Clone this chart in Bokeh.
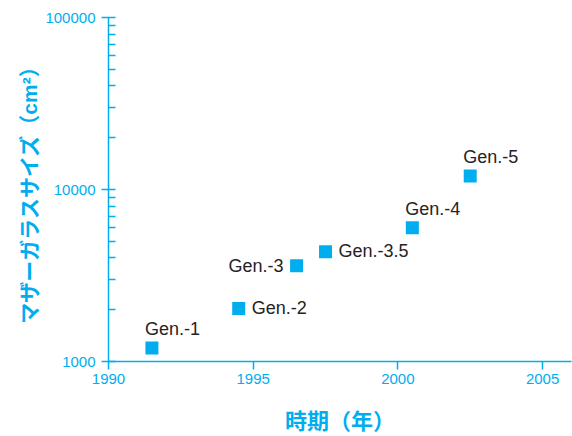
from bokeh.plotting import figure
from bokeh.models import Range1d, FixedTicker, ColumnDataSource, PrintfTickFormatter
from bokeh.core.properties import value
from bokeh.embed import file_html
from bokeh.resources import INLINE

# Mother-glass generations: introduction year and substrate area (cm^2)
generations = ["Gen.-1", "Gen.-2", "Gen.-3", "Gen.-3.5", "Gen.-4", "Gen.-5"]
years = [1991.5, 1994.5, 1996.5, 1997.5, 2000.5, 2002.5]
glass_area_cm2 = [1200, 2030, 3600, 4350, 6000, 12000]

x_ticks = [1990, 1995, 2000, 2005]
y_ticks = [1000, 10000, 100000]

x_title = "時期（年）"
y_title = "マザーガラスサイズ（cm²）"

# where each label sits relative to its marker
label_side = ["above", "right", "left", "right", "above", "above"]
side_offsets = {"above": (-7, -18.5), "right": (13, -0.5), "left": (-13, 0)}

CYAN = "#00AEEF"
TEXT = "#262324"
TITLE_FONT = "'Liberation Sans', 'Noto Sans CJK JP'"

p = figure(
    width=572, height=436,
    x_range=Range1d(1990, 2006), y_range=Range1d(1000, 100000),
    y_axis_type="log",
    output_backend="svg", toolbar_location=None,
    min_border_left=108, min_border_right=1,
    min_border_top=17, min_border_bottom=75,
)
p.outline_line_color = None
p.xgrid.grid_line_color = None
p.ygrid.grid_line_color = None
p.background_fill_color = "white"
p.border_fill_color = "white"

p.scatter(years, glass_area_cm2, marker="square", size=13,
          fill_color=CYAN, line_color=None)

for align, sides in (("left", ("above", "right")), ("right", ("left",))):
    idx = [i for i, s in enumerate(label_side) if s in sides]
    src = ColumnDataSource(dict(
        x=[years[i] for i in idx],
        y=[glass_area_cm2[i] for i in idx],
        t=[generations[i] for i in idx],
        dx=[side_offsets[label_side[i]][0] for i in idx],
        dy=[side_offsets[label_side[i]][1] for i in idx],
    ))
    p.text(x="x", y="y", text="t", x_offset="dx", y_offset="dy", source=src,
           text_align=align, text_baseline="middle",
           text_font=value("Liberation Sans"), text_font_size="18px",
           text_color=TEXT)

minor = [m * d for d in y_ticks[:-1] for m in range(2, 10)]
p.xaxis.ticker = FixedTicker(ticks=x_ticks, minor_ticks=[])
p.yaxis.ticker = FixedTicker(ticks=y_ticks, minor_ticks=minor)
p.yaxis.formatter = PrintfTickFormatter(format="%d")

for ax in (p.xaxis[0], p.yaxis[0]):
    ax.axis_line_color = CYAN
    ax.axis_line_width = 1.5
    ax.major_tick_line_color = CYAN
    ax.major_tick_line_width = 1.5
    ax.minor_tick_line_color = CYAN
    ax.minor_tick_line_width = 1.5
    ax.major_label_text_color = CYAN
    ax.major_label_text_font = "Liberation Sans"
    ax.major_label_text_font_size = "15px"
    ax.axis_label_text_color = CYAN
    ax.axis_label_text_font = TITLE_FONT
    ax.axis_label_text_font_style = "bold"

xa = p.xaxis[0]
xa.major_tick_in = 0
xa.major_tick_out = 8
xa.minor_tick_in = 0
xa.minor_tick_out = 0
xa.major_label_standoff = 4
xa.axis_label = x_title
xa.axis_label_text_font_size = "22px"
xa.axis_label_standoff = 22
xa.axis_label_text_baseline = "top"

ya = p.yaxis[0]
ya.major_tick_in = 7
ya.major_tick_out = 7
ya.minor_tick_in = 7
ya.minor_tick_out = 0
ya.major_label_standoff = 6
ya.axis_label = y_title
ya.axis_label_text_font_size = "21px"
ya.axis_label_standoff = 1

open("out.html", "w").write(file_html(p, INLINE))
